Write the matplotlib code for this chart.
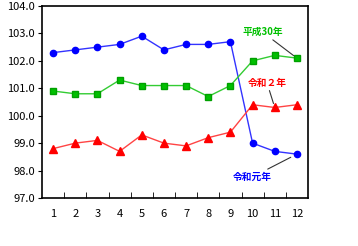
import numpy as np
import matplotlib
matplotlib.use('Agg')
import matplotlib.pyplot as plt

plt.rcParams['font.family'] = ['Noto Sans CJK JP', 'DejaVu Sans']

months = list(range(1, 13))
h30 = [100.9, 100.8, 100.8, 101.3, 101.1, 101.1, 101.1, 100.7, 101.1, 102.0, 102.2, 102.1]
r1 = [102.3, 102.4, 102.5, 102.6, 102.9, 102.4, 102.6, 102.6, 102.7, 99.0, 98.7, 98.6]
r2 = [98.8, 99.0, 99.1, 98.7, 99.3, 99.0, 98.9, 99.2, 99.4, 100.4, 100.3, 100.4]
yticks = [97.0, 98.0, 99.0, 100.0, 101.0, 102.0, 103.0, 104.0]

fig = plt.figure(figsize=(3.58, 2.46), dpi=100)
ax = fig.add_axes([42/358, 1 - 198/246, 266/358, 192/246])

ax.plot(months, r1, color='#3333ff', lw=1, marker='o', ms=4.5,
        mfc='#0000ff', mec='#0000ff')
ax.plot(months, h30, color='#33cc33', lw=1, marker='s', ms=4.5,
        mfc='#00c000', mec='#00a000')
ax.plot(months, r2, color='#ff4444', lw=1, marker='^', ms=5.5,
        mfc='#ff0000', mec='#ff0000')

ax.set_xlim(0.5, 12.5)
ax.set_ylim(97, 104)
ax.set_yticks(yticks)
ax.set_yticklabels(['%.1f' % v for v in yticks])
ax.set_xticks(months)
ax.set_xticks(np.arange(1.5, 12.5, 1), minor=True)
ax.tick_params(axis='x', which='major', length=0, pad=8, labelsize=8)
ax.tick_params(axis='x', which='minor', direction='in', length=4)
ax.tick_params(axis='y', direction='out', length=3, labelsize=8, pad=2)
for s in ax.spines.values():
    s.set_linewidth(1.2)

ax.annotate('平成30年', xy=(12, 102.1), xytext=(10.45, 103.05),
            color='#00c000', fontsize=7, weight='bold', ha='center', va='center',
            arrowprops=dict(arrowstyle='-', color='#333333', lw=0.8,
                            shrinkA=0, shrinkB=3))
ax.annotate('令和２年', xy=(11, 100.3), xytext=(10.65, 101.2),
            color='#ff0000', fontsize=7, weight='bold', ha='center', va='center',
            arrowprops=dict(arrowstyle='-', color='#333333', lw=0.8,
                            shrinkA=0, shrinkB=3))
ax.annotate('令和元年', xy=(12, 98.6), xytext=(10.0, 97.77),
            color='#0000ff', fontsize=7, weight='bold', ha='center', va='center',
            arrowprops=dict(arrowstyle='-', color='#333333', lw=0.8,
                            shrinkA=0, shrinkB=5))

fig.savefig('out.png', dpi=100)
